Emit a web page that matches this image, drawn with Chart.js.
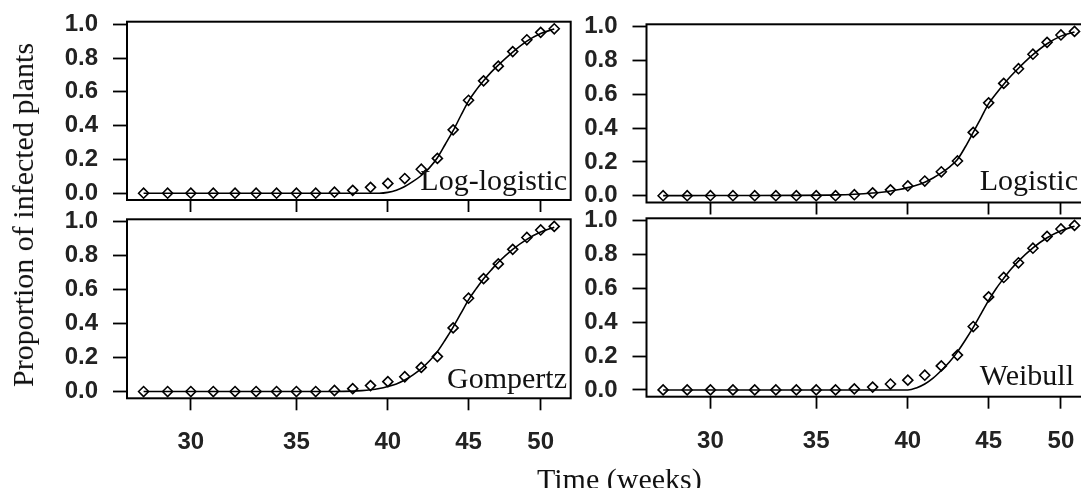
<!DOCTYPE html>
<html>
<head>
<meta charset="utf-8">
<script src="https://cdn.jsdelivr.net/npm/chart.js@4.4.1/dist/chart.umd.min.js"></script>
<style>
  html, body { margin: 0; padding: 0; background: #fff; }
  #wrap { position: relative; width: 1081px; height: 488px; overflow: hidden; background: #fff; }
  #wrap canvas { position: absolute; }
  .lbl { position: absolute; font-family: "Liberation Serif", "Times New Roman", serif; line-height: 1; white-space: nowrap; color: #111; }
</style>
</head>
<body>
<div id="wrap">
  <canvas id="c1"></canvas>
  <canvas id="c2"></canvas>
  <canvas id="c3"></canvas>
  <canvas id="c4"></canvas>
  <div class="lbl" style="font-size:30px; right:514px; top:165px;">Log-logistic</div>
  <div class="lbl" style="font-size:30px; right:3px; top:165px;">Logistic</div>
  <div class="lbl" style="font-size:30px; right:514px; top:363px;">Gompertz</div>
  <div class="lbl" style="font-size:30px; right:7px; top:360px;">Weibull</div>
  <div class="lbl" style="font-size:30px; left:537px; top:464px;">Time (weeks)</div>
  <div class="lbl" style="font-size:30px; left:23px; top:215px; transform: translate(-50%, -50%) rotate(-90deg);">Proportion of infected plants</div>
</div>
<script>
// observed proportions, weeks 28-51 (same in every panel)
const weeks = [28, 29, 30, 31, 32, 33, 34, 35, 36, 37, 38, 39, 40, 41, 42, 43, 44, 45, 46, 47, 48, 49, 50, 51];
const observed = [0, 0, 0, 0, 0, 0, 0, 0, 0, 0.006, 0.017, 0.035, 0.058, 0.087, 0.142, 0.206, 0.375, 0.55, 0.665, 0.752, 0.838, 0.908, 0.952, 0.973];

// fitted curves
const curveWeeks = [28, 30, 32, 34, 36, 37, 38, 38.5, 39, 39.5, 40, 40.5, 41, 41.5, 42, 42.5, 43, 43.5, 44, 44.5, 45, 45.5, 46, 46.5, 47, 48, 49, 50, 51];
const logLogisticFit = [0, 0, 0, 0, 0, 0, 0, 0, 0, 0, 0.005, 0.018, 0.04, 0.07, 0.105, 0.15, 0.21, 0.29, 0.37, 0.46, 0.545, 0.61, 0.665, 0.715, 0.758, 0.835, 0.9, 0.945, 0.972];
const logisticFit = [0.0005, 0.001, 0.001, 0.002, 0.005, 0.009, 0.016, 0.021, 0.028, 0.037, 0.048, 0.062, 0.08, 0.105, 0.135, 0.17, 0.215, 0.29, 0.375, 0.46, 0.545, 0.605, 0.66, 0.71, 0.755, 0.835, 0.9, 0.945, 0.97];
const gompertzFit = [0, 0, 0, 0, 0, 0, 0.002, 0.005, 0.01, 0.018, 0.03, 0.045, 0.068, 0.098, 0.135, 0.18, 0.235, 0.305, 0.38, 0.46, 0.54, 0.605, 0.665, 0.715, 0.762, 0.838, 0.897, 0.94, 0.968];
const weibullFit = [0, 0, 0, 0, 0, 0, 0, 0, 0, 0, 0, 0.012, 0.035, 0.07, 0.115, 0.165, 0.225, 0.295, 0.37, 0.45, 0.53, 0.6, 0.66, 0.715, 0.762, 0.84, 0.9, 0.942, 0.968];

const xTicks = [30, 35, 40, 45, 50];
const yTicks = [0, 0.2, 0.4, 0.6, 0.8, 1.0];

const tickFont = { family: "'Liberation Sans', Arial, sans-serif", size: 24, weight: 'bold' };
const inkColor = '#222';

// box round the plot area
const frame = {
  id: 'frame',
  afterDraw(chart) {
    const { ctx, chartArea: a } = chart;
    ctx.save();
    ctx.strokeStyle = '#000';
    ctx.lineWidth = 2;
    ctx.strokeRect(a.left, a.top, a.right - a.left, a.bottom - a.top);
    ctx.restore();
  }
};

function makePanel(p) {
  const canvas = document.getElementById(p.id);
  canvas.width = p.w;
  canvas.height = p.h;
  canvas.style.left = p.left + 'px';
  canvas.style.top = p.top + 'px';
  canvas.style.width = p.w + 'px';
  canvas.style.height = p.h + 'px';

  const yWidth = p.area.l - p.left;
  const xHeight = p.top + p.h - p.area.b;

  return new Chart(canvas.getContext('2d'), {
    type: 'line',
    data: {
      datasets: [
        {
          data: curveWeeks.map((w, i) => ({ x: w, y: p.fit[i] })),
          borderColor: '#000',
          borderWidth: 1.6,
          pointRadius: 0,
          cubicInterpolationMode: 'monotone',
          fill: false
        },
        {
          data: weeks.map((w, i) => ({ x: w, y: observed[i] })),
          showLine: false,
          pointStyle: 'rectRot',
          pointRadius: 5,
          pointBorderWidth: 1.6,
          pointBorderColor: '#000',
          pointBackgroundColor: 'rgba(0,0,0,0)'
        }
      ]
    },
    options: {
      responsive: false,
      animation: false,
      devicePixelRatio: 1,
      layout: { padding: { top: p.area.t - p.top, right: p.left + p.w - p.area.r, left: 0, bottom: 0 } },
      plugins: { legend: { display: false }, tooltip: { enabled: false } },
      scales: {
        x: {
          type: 'logarithmic',
          min: 27.33,
          max: 52.24,
          afterBuildTicks: (scale) => { scale.ticks = xTicks.map(v => ({ value: v })); },
          afterFit: (scale) => {
            scale.height = xHeight;
            scale.paddingLeft = scale.paddingRight = scale.paddingTop = scale.paddingBottom = 0;
          },
          border: { display: false },
          grid: { drawOnChartArea: false, drawTicks: true, tickLength: 12, tickColor: '#000', tickWidth: 1.8 },
          ticks: {
            display: p.showX,
            autoSkip: false,
            maxRotation: 0,
            padding: 18,
            color: inkColor,
            font: tickFont,
            callback: (v) => String(v)
          }
        },
        y: {
          min: -0.04,
          max: 1.015,
          afterBuildTicks: (scale) => { scale.ticks = yTicks.map(v => ({ value: v })); },
          afterFit: (scale) => {
            scale.width = yWidth;
            scale.paddingLeft = scale.paddingRight = scale.paddingTop = scale.paddingBottom = 0;
          },
          border: { display: false },
          grid: { drawOnChartArea: false, drawTicks: true, tickLength: 14, tickColor: '#000', tickWidth: 1.8 },
          ticks: {
            padding: 15,
            color: inkColor,
            font: tickFont,
            callback: (v) => Number(v).toFixed(1)
          }
        }
      }
    },
    plugins: [frame]
  });
}

makePanel({ id: 'c1', left: 0, top: 0, w: 580, h: 216, area: { l: 127, r: 570.7, t: 21.7, b: 200 }, fit: logLogisticFit, showX: false });
makePanel({ id: 'c2', left: 575, top: 0, w: 530, h: 216, area: { l: 646.5, r: 1091, t: 24.3, b: 202.5 }, fit: logisticFit, showX: false });
makePanel({ id: 'c3', left: 0, top: 196, w: 580, h: 292, area: { l: 127, r: 570.7, t: 219.3, b: 398.3 }, fit: gompertzFit, showX: true });
makePanel({ id: 'c4', left: 575, top: 196, w: 530, h: 292, area: { l: 646.5, r: 1091, t: 218.3, b: 396.7 }, fit: weibullFit, showX: true });
</script>
</body>
</html>
